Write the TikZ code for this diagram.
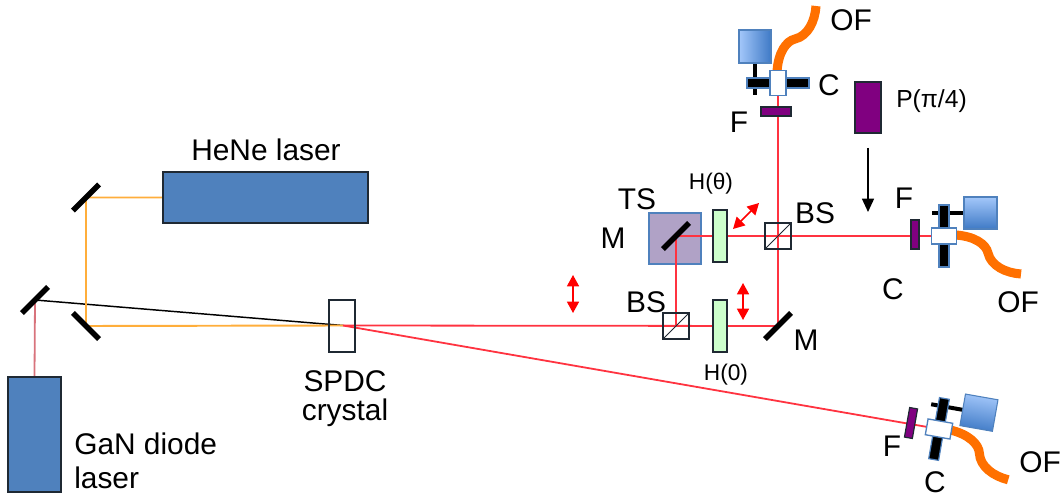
\documentclass[tikz,border=0pt]{standalone}
\usepackage{fontspec}
\setmainfont{Liberation Sans}
\usetikzlibrary{arrows.meta}
\pgfdeclarelayer{tsl}
\pgfdeclarelayer{beaml}
\pgfsetlayers{tsl,beaml,main}
\definecolor{laserblue}{HTML}{4F81BD}
\definecolor{darkline}{HTML}{1F2933}
\definecolor{beamred}{HTML}{FF3340}
\definecolor{beamorange}{HTML}{FFAE3B}
\definecolor{pumpred}{HTML}{D8737C}
\definecolor{fibre}{HTML}{FF7000}
\definecolor{plategreen}{HTML}{CCFFCC}
\definecolor{tsfill}{HTML}{B0A2C6}
\definecolor{filterpurple}{HTML}{800080}
\definecolor{sqlight}{HTML}{A3C7FA}
\definecolor{sqdark}{HTML}{3F7AC6}
\tikzset{
  pxsize/.style 2 args={minimum width=#1*0.75pt,minimum height=#2*0.75pt,inner sep=0pt,outer sep=0pt},
  laserbox/.style={draw=darkline,fill=laserblue,line width=1.1pt},
  plate/.style={draw=darkline,fill=plategreen,line width=0.9pt,pxsize={14}{52}},
  filterbox/.style={draw=darkline,fill=filterpurple,line width=0.9pt},
  mirror/.style={fill=black,pxsize={37}{5.5}},
  splitter/.style={draw=darkline,line width=0.8pt,pxsize={26}{26}},
  redbeam/.style={beamred,line width=1.35pt},
  orangebeam/.style={beamorange,line width=1.45pt},
  shift arrow/.style={red,line width=1.2pt,{Triangle[length=8.5pt,width=9pt]}-{Triangle[length=8.5pt,width=9pt]}},
  big/.style={font=\fontsize{22.4}{26}\selectfont,inner sep=0pt},
  small/.style={font=\fontsize{17}{20}\selectfont,inner sep=0pt},
  pics/collim/.style={code={
    \draw[black,line width=3pt] (-12,-23) -- (20,-23);
    \draw[draw=laserblue,line width=0.8pt,top color=sqlight,bottom color=sqdark,shading angle=#1] (20,-39) rectangle (53,-7);
    \draw[draw=laserblue,line width=0.9pt,fill=black] (-5,-31) rectangle (5,31);
    \draw[fibre,line width=6.8pt] (11,-1) .. controls (30,0) and (42,8) .. (44,17) .. controls (47,30) and (62,37) .. (77,38);
    \draw[draw=laserblue,line width=1pt,fill=white] (-12.5,-8) rectangle (12.5,8);
    \coordinate (-w) at (0,0);
  }},
}
\begin{document}
\begin{tikzpicture}[x=0.75pt,y=-0.75pt]
\useasboundingbox (0,0) rectangle (1062,498);
% lasers
\node[laserbox,pxsize={205}{51}] (hene) at (265.5,197.5) {};
\node[laserbox,pxsize={53}{115}] (gan) at (34.5,434.5) {};
% mirrors
\node[mirror,rotate=45] (mt) at (86,197.5) {};
\node[mirror,rotate=-45] (mb) at (86,326) {};
\node[mirror,rotate=45] (ml) at (35,300) {};
\node[mirror,rotate=45] (mts) at (676,236) {};
\node[mirror,rotate=45] (mr) at (778,326) {};
% crystal
\node[draw=darkline,line width=0.9pt,pxsize={26}{52}] (spdc) at (342,326) {};
\coordinate (pump) at (343,325.5);
% TS stage
\begin{pgfonlayer}{tsl}
\node[draw=laserblue,fill=tsfill,line width=0.8pt,pxsize={52}{51}] (ts) at (675,238.5) {};
\end{pgfonlayer}
% plates and splitters
\node[plate] (ht) at (720,236) {};
\node[plate] (h0) at (720,326) {};
\node[splitter] (bsu) at (778,236) {};
\node[splitter] (bsl) at (676,326) {};
\draw[darkline,line width=0.7pt] (bsu.south west) -- (bsu.north east);
\draw[darkline,line width=0.7pt] (bsl.south west) -- (bsl.north east);
% polariser
\node[filterbox,pxsize={26}{51}] (pol) at (868,107.5) {};
\coordinate (polarrow) at (868,148);
\coordinate (polhead) at (868,212);
\draw[black,line width=1.1pt,-{Triangle[length=10pt,width=9pt]}] (polarrow) -- (polhead);
% filters
\node[filterbox,pxsize={30}{9}] (ftop) at (776,111.5) {};
\node[filterbox,pxsize={8}{29}] (fright) at (915,234.5) {};
\node[filterbox,pxsize={8}{30},rotate=-10] (flow) at (911,423) {};
% collimators
\pic (ca) [rotate=90] at (778,83) {collim=90};
\pic (cb) at (944,236) {collim=0};
\pic (cc) [rotate=-10] at (939,429) {collim=-10};
% beams
\begin{pgfonlayer}{beaml}
\draw[pumpred,line width=1.35pt] (gan.north) -- (ml.center);
\draw[black,line width=1.1pt] (ml.center) -- (pump);
\draw[orangebeam,line join=round] (hene.west) -- (mt.center) -- (mb.center) -- (pump);
\draw[redbeam] (pump) -- (mr.center) -- (ca-w);
\draw[redbeam] (pump) -- (cc-w);
\draw[redbeam] (bsl.center) -- (mts.center) -- (cb-w);
\end{pgfonlayer}
% translation arrows
\coordinate (a1s) at (573,275);
\coordinate (a1e) at (573,313);
\coordinate (a2s) at (743,283);
\coordinate (a2e) at (743,320);
\coordinate (a3s) at (733,229);
\coordinate (a3e) at (759,203);
\draw[shift arrow] (a1s) -- (a1e);
\draw[shift arrow] (a2s) -- (a2e);
\draw[shift arrow] (a3s) -- (a3e);
% labels
\node[big] (l1) at (266,150) {HeNe laser};
\node[big] (l2) at (345,381) {SPDC};
\node[big] (l3) at (345,413) {crystal};
\node[big,anchor=west] (l4) at (74,444) {GaN diode};
\node[big,anchor=west] (l5) at (74,478) {laser};
\node[big] (l6) at (851,20) {OF};
\node[big] (l7) at (829,85) {C};
\node[big] (l8) at (739,122) {F};
\node[small,font=\fontsize{18.5}{22}\selectfont,anchor=west] (l9) at (896,101) {P(π/4)};
\node[big] (l10) at (637,199) {TS};
\node[big] (l11) at (613,238) {M};
\node[small] (l12) at (711,184) {H(θ)};
\node[big] (l13) at (815,213) {BS};
\node[big] (l14) at (646,302) {BS};
\node[big] (l15) at (806,340) {M};
\node[small] (l16) at (726,375) {H(0)};
\node[big] (l17) at (904,198) {F};
\node[big] (l18) at (893,289) {C};
\node[big] (l19) at (1018,302) {OF};
\node[big] (l20) at (892,446) {F};
\node[big] (l21) at (935,482) {C};
\node[big] (l22) at (1040,462) {OF};
\end{tikzpicture}
\end{document}
